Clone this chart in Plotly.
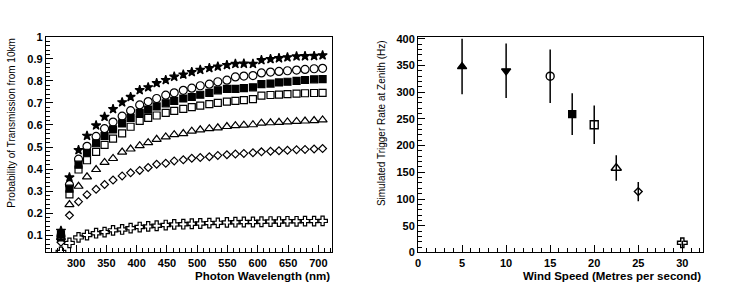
import plotly.graph_objects as go

# ---------------- data: left panel ----------------
wavelength = [275, 289, 304, 318, 333, 347, 361, 376, 390, 405, 419, 433, 448, 462, 477, 491,
              505, 520, 534, 549, 563, 577, 592, 606, 621, 635, 649, 664, 678, 693, 707]

trans_star = [0.120, 0.362, 0.486, 0.551, 0.598, 0.637, 0.672, 0.703, 0.727, 0.758, 0.771,
              0.790, 0.804, 0.819, 0.829, 0.840, 0.850, 0.858, 0.865, 0.872, 0.877, 0.878,
              0.877, 0.894, 0.899, 0.903, 0.907, 0.911, 0.912, 0.913, 0.916]
trans_circle = [0.095, 0.329, 0.445, 0.503, 0.548, 0.583, 0.613, 0.640, 0.665, 0.691, 0.706,
                0.720, 0.735, 0.746, 0.757, 0.767, 0.778, 0.785, 0.796, 0.803, 0.818, 0.822,
                0.824, 0.836, 0.840, 0.843, 0.846, 0.849, 0.852, 0.855, 0.857]
trans_fsquare = [0.103, 0.311, 0.420, 0.474, 0.517, 0.550, 0.580, 0.607, 0.632, 0.655, 0.670,
                 0.684, 0.698, 0.709, 0.720, 0.727, 0.737, 0.746, 0.757, 0.764, 0.764, 0.767,
                 0.771, 0.785, 0.788, 0.793, 0.796, 0.800, 0.804, 0.807, 0.808]
trans_osquare = [0.090, 0.285, 0.398, 0.440, 0.478, 0.510, 0.538, 0.562, 0.592, 0.619, 0.632,
                 0.643, 0.655, 0.664, 0.673, 0.681, 0.688, 0.695, 0.700, 0.706, 0.709, 0.713,
                 0.717, 0.733, 0.736, 0.738, 0.740, 0.742, 0.744, 0.745, 0.746]
trans_triangle = [0.090, 0.239, 0.322, 0.365, 0.398, 0.430, 0.448, 0.477, 0.491, 0.506, 0.520,
                  0.535, 0.546, 0.556, 0.561, 0.572, 0.578, 0.583, 0.587, 0.593, 0.597, 0.599,
                  0.601, 0.608, 0.610, 0.612, 0.614, 0.616, 0.618, 0.620, 0.623]
trans_diamond = [0.068, 0.190, 0.252, 0.284, 0.308, 0.330, 0.350, 0.369, 0.383, 0.394, 0.407,
                 0.422, 0.426, 0.437, 0.442, 0.449, 0.452, 0.456, 0.462, 0.465, 0.468, 0.471,
                 0.474, 0.478, 0.481, 0.483, 0.485, 0.488, 0.489, 0.491, 0.493]
trans_cross = [0.024, 0.065, 0.090, 0.101, 0.109, 0.114, 0.122, 0.126, 0.132, 0.137, 0.140,
               0.143, 0.146, 0.149, 0.150, 0.152, 0.153, 0.155, 0.156, 0.158, 0.159, 0.160,
               0.160, 0.161, 0.162, 0.162, 0.163, 0.163, 0.164, 0.164, 0.165]

# ---------------- data: right panel ----------------
wind_speed = [5, 10, 15, 17.5, 20, 22.5, 25, 30]
trigger_rate = [348, 340, 330, 259, 239, 158, 114, 18]
trigger_err = [52, 51, 50, 39, 36, 24, 18, 4]

left_series = [
    (trans_star, "star", 7),
    (trans_circle, "circle-open", 8),
    (trans_fsquare, "square", 7),
    (trans_osquare, "square-open", 7),
    (trans_triangle, "triangle-up-open", 8),
    (trans_diamond, "diamond-open", 6),
    (trans_cross, "cross-open", 8),
]
right_symbols = ["triangle-up", "triangle-down", "circle-open", "square", "square-open",
                 "triangle-up-open", "diamond-open", "cross-open"]
right_sizes = [8, 8, 8, 7, 8, 9, 6, 8]

fig = go.Figure()

for vals, sym, sz in left_series:
    fig.add_trace(go.Scatter(
        x=wavelength, y=vals, mode="markers", xaxis="x", yaxis="y",
        marker=dict(symbol=sym, size=sz, color="black", line=dict(color="black", width=1.2)),
        showlegend=False))

for i in range(len(wind_speed)):
    fig.add_trace(go.Scatter(
        x=[wind_speed[i]], y=[trigger_rate[i]], mode="markers", xaxis="x2", yaxis="y2",
        error_y=dict(type="data", array=[trigger_err[i]], color="black", thickness=1.5, width=0),
        marker=dict(symbol=right_symbols[i], size=right_sizes[i], color="black",
                    line=dict(color="black", width=1.4)),
        showlegend=False))

W, H = 747, 291


def px(xs):
    return xs / W


def py(ys):
    return (H - ys) / H


ytop, ybot = 32, 257
ydom = [py(ybot), py(ytop)]
tickfont = dict(family="Liberation Sans", size=11, color="black", weight="bold")

common = dict(showline=True, linecolor="black", linewidth=1, mirror=True, ticks="inside",
              tickcolor="black", ticklen=7, tickwidth=1, showgrid=False, zeroline=False,
              tickfont=tickfont)

fig.update_layout(
    width=W, height=H, margin=dict(l=0, r=0, t=0, b=0),
    paper_bgcolor="white", plot_bgcolor="white",
    xaxis=dict(domain=[px(43), px(330)], range=[250, 722], anchor="y",
               tickvals=[300, 350, 400, 450, 500, 550, 600, 650, 700],
               minor=dict(ticks="inside", ticklen=4, dtick=10, tick0=0, tickcolor="black"),
               **common),
    yaxis=dict(domain=ydom, range=[0.022, 1.0005], anchor="x",
               tickvals=[0.1, 0.2, 0.3, 0.4, 0.5, 0.6, 0.7, 0.8, 0.9, 1.0],
               ticktext=["0.1", "0.2", "0.3", "0.4", "0.5", "0.6", "0.7", "0.8", "0.9", "1"],
               minor=dict(ticks="inside", ticklen=4, dtick=0.02, tick0=0, tickcolor="black"),
               **common),
    xaxis2=dict(domain=[px(416.7), px(703.3)], range=[0, 32.4], anchor="y2",
                tickvals=[0, 5, 10, 15, 20, 25, 30],
                minor=dict(ticks="inside", ticklen=4, dtick=1, tick0=0, tickcolor="black"),
                **common),
    yaxis2=dict(domain=ydom, range=[0, 404], anchor="x2",
                tickvals=[0, 50, 100, 150, 200, 250, 300, 350, 400],
                minor=dict(ticks="inside", ticklen=4, dtick=10, tick0=0, tickcolor="black"),
                **common),
)

titlefont_b = dict(family="Liberation Sans", size=11.5, color="black", weight="bold")
titlefont_n = dict(family="Liberation Sans", size=10, color="black")
fig.add_annotation(text="Photon Wavelength (nm)", xref="paper", yref="paper",
                   x=px(330), y=py(282), xanchor="right", yanchor="middle",
                   showarrow=False, font=titlefont_b)
fig.add_annotation(text="Wind Speed (Metres per second)", xref="paper", yref="paper",
                   x=px(703), y=py(282), xanchor="right", yanchor="middle",
                   showarrow=False, font=titlefont_b)
fig.add_annotation(text="Probability of Transmission from 10km", xref="paper", yref="paper",
                   x=px(9), y=py(31), xanchor="center", yanchor="top", textangle=-90,
                   showarrow=False, font=titlefont_n)
fig.add_annotation(text="Simulated Trigger Rate at Zenith (Hz)", xref="paper", yref="paper",
                   x=px(380), y=py(33), xanchor="center", yanchor="top", textangle=-90,
                   showarrow=False, font=titlefont_n)

# remove the default page margin so the figure sits at the top-left of the window
fig.write_html("out.html", post_script="document.body.style.margin='0';",
               config={"displayModeBar": False})
